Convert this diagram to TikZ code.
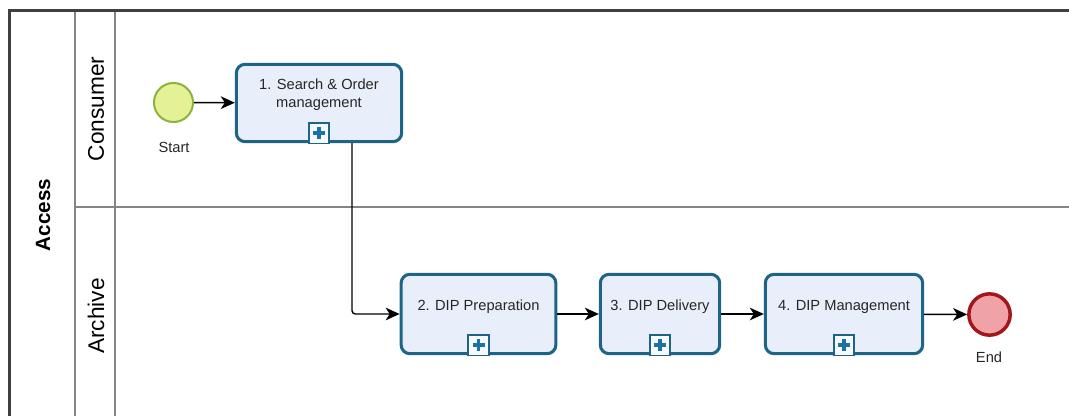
\documentclass[tikz,border=0pt]{standalone}
\usepackage{fontspec}
\setmainfont{Liberation Sans}
\usetikzlibrary{arrows.meta,calc,positioning}
\definecolor{taskborder}{HTML}{1D6486}
\definecolor{taskfill}{HTML}{E9EFFA}
\definecolor{plusblue}{HTML}{1A72A6}
\definecolor{startfill}{HTML}{E4F197}
\definecolor{startborder}{HTML}{8DB23C}
\definecolor{endfill}{HTML}{F0A3A6}
\definecolor{endborder}{HTML}{A3161C}
\definecolor{lanegray}{HTML}{858585}
\tikzset{
  task/.style={draw=taskborder, line width=2.3pt, fill=taskfill, rounded corners=6.5pt, inner sep=0pt},
  tasktext/.style={font=\fontsize{11}{13.5}\selectfont, align=center, inner sep=0pt, text=black!85},
  marker/.style={draw=taskborder, line width=1.3pt, fill=taskfill!40!white, minimum size=15.5pt, inner sep=0pt, anchor=south},
  plussign/.style={draw=plusblue, line width=2.8pt},
  startev/.style={circle, draw=startborder, line width=1.5pt, fill=startfill, minimum size=29.3pt, inner sep=0pt},
  endev/.style={circle, draw=endborder, line width=2.6pt, fill=endfill, minimum size=31pt, inner sep=0pt},
  evlabel/.style={font=\fontsize{11}{13}\selectfont, inner sep=0pt, text=black!85},
  flow/.style={line width=1.1pt, -{Stealth[length=10.5pt,width=9.5pt,inset=3pt]}},
  lanetext/.style={font=\fontsize{17}{20}\selectfont, rotate=90, inner sep=0pt},
  pooltext/.style={font=\bfseries\fontsize{15.5}{18}\selectfont, rotate=90, inner sep=0pt},
  laneline/.style={draw=lanegray, line width=1.5pt},
}
\begin{document}
\begin{tikzpicture}[x=0.75pt,y=-0.75pt]
\useasboundingbox (0,0) rectangle (1069,416);
% pool / lanes
\draw[laneline] (75,10) -- (75,416);
\draw[laneline] (115,10) -- (115,416);
\draw[laneline] (75,207) -- (1069,207);
\draw[draw=black!75, line width=1.6pt] (9.5,416) -- (9.5,10.5) -- (1069,10.5);
\node[pooltext] (pool) at (43,215) {Access};
\node[lanetext] (lane1) at (96,109) {Consumer};
\node[lanetext] (lane2) at (96,316) {Archive};
% events
\node[startev] (start) at (173.5,102.5) {};
\node[evlabel] (startlbl) at (174,147) {Start};
\node[endev] (end) at (989.5,314.5) {};
\node[evlabel] (endlbl) at (989,357) {End};
% tasks
\node[task, minimum width=124pt, minimum height=58pt] (t1) at (319,103) {};
\node[tasktext] (t1t) at (319,95) {1. Search \& Order\\management};
\node[task, minimum width=116pt, minimum height=59.5pt] (t2) at (478.5,314) {};
\node[tasktext] (t2t) at (478.5,307) {2. DIP Preparation};
\node[task, minimum width=89.5pt, minimum height=59.5pt] (t3) at (660,314) {};
\node[tasktext] (t3t) at (660,307) {3. DIP Delivery};
\node[task, minimum width=118pt, minimum height=59.5pt] (t4) at (844,314) {};
\node[tasktext] (t4t) at (844,307) {4. DIP Management};
% markers
\foreach \t in {t1,t2,t3,t4}{
  \node[marker] (\t m) at ($(\t.south)+(0,1.2)$) {};
  \draw[plussign] ($(\t m.center)+(-6,0)$) -- ($(\t m.center)+(6,0)$);
  \draw[plussign] ($(\t m.center)+(0,-6)$) -- ($(\t m.center)+(0,6)$);
}
% flows
\draw[flow] (start) -- (t1);
\draw[flow, rounded corners=2.5pt] ($(t1.south west)!0.696!(t1.south east)$) |- (t2.west);
\draw[flow] (t2) -- (t3);
\draw[flow] (t3) -- (t4);
\draw[flow] (t4) -- (end);
\end{tikzpicture}
\end{document}
